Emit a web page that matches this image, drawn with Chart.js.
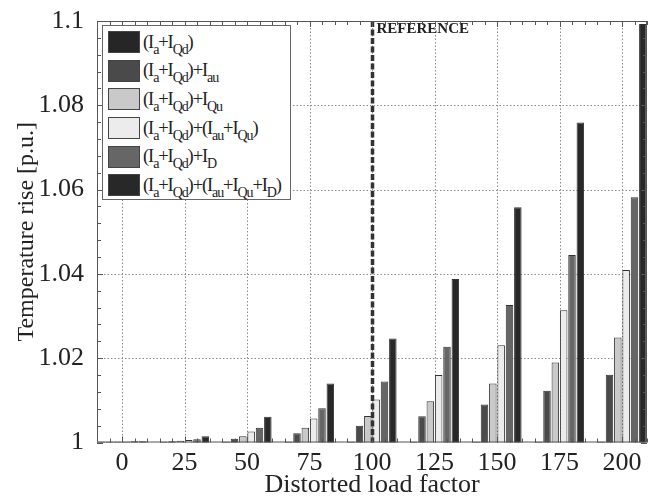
<!DOCTYPE html>
<html>
<head>
<meta charset="utf-8">
<script src="https://cdn.jsdelivr.net/npm/chart.js@4/dist/chart.umd.min.js"></script>
<style>
  body { margin: 0; background: #fff; }
  #wrap { position: relative; width: 656px; height: 499px; }
  #legend {
    position: absolute; left: 102px; top: 25px; width: 182px; height: 171px;
    border: 1px solid #666; background: #fff; padding: 2px 0 0 5px; box-sizing: content-box;
    font-family: "Liberation Serif", serif; font-size: 18.5px; color: #222; white-space: nowrap;
    letter-spacing: -1.1px;
  }
  .row { display: flex; align-items: center; height: 28.6px; }
  .sw { width: 30px; height: 20px; border: 1px solid #444; margin-right: 3px; flex: none; }
  .row sub { font-size: 14px; vertical-align: -6px; line-height: 0; }
</style>
</head>
<body>
<div id="wrap">
  <canvas id="chart" width="656" height="499"></canvas>
  <div id="legend"></div>
</div>
<script>
// distorted load factor (%)
const categories = [0, 25, 50, 75, 100, 125, 150, 175, 200];

// temperature rise [p.u.], one array per current combination
const iaQd       = [1.0002, 1.0002, 1.0002, 1.0002, 1.0002, 1.0002, 1.0002, 1.0002, 1.0002];
const iaQdAu     = [1.0002, 1.0003, 1.0009, 1.0022, 1.0040, 1.0062, 1.0090, 1.0123, 1.0161];
const iaQdQu     = [1.0002, 1.0004, 1.0015, 1.0035, 1.0063, 1.0098, 1.0140, 1.0190, 1.0249];
const iaQdAuQu   = [1.0002, 1.0006, 1.0026, 1.0057, 1.0102, 1.0160, 1.0231, 1.0314, 1.0409];
const iaQdD      = [1.0003, 1.0008, 1.0035, 1.0081, 1.0145, 1.0227, 1.0326, 1.0445, 1.0582];
const iaQdAuQuD  = [1.0003, 1.0015, 1.0061, 1.0140, 1.0247, 1.0388, 1.0558, 1.0759, 1.0993];

const yTicks = [1, 1.02, 1.04, 1.06, 1.08, 1.1];
const referenceLoad = 100;

const seriesLabels = [
  '(I<sub>a</sub>+I<sub>Qd</sub>)',
  '(I<sub>a</sub>+I<sub>Qd</sub>)+I<sub>au</sub>',
  '(I<sub>a</sub>+I<sub>Qd</sub>)+I<sub>Qu</sub>',
  '(I<sub>a</sub>+I<sub>Qd</sub>)+(I<sub>au</sub>+I<sub>Qu</sub>)',
  '(I<sub>a</sub>+I<sub>Qd</sub>)+I<sub>D</sub>',
  '(I<sub>a</sub>+I<sub>Qd</sub>)+(I<sub>au</sub>+I<sub>Qu</sub>+I<sub>D</sub>)'
];
const seriesData = [iaQd, iaQdAu, iaQdQu, iaQdAuQu, iaQdD, iaQdAuQuD];
const seriesColors = ['#262626', '#4a4a4a', '#c9c9c9', '#ececec', '#666666', '#282828'];

const FONT = '"Liberation Serif", serif';

// dotted grid, frame, inward ticks and the reference line
const decorations = {
  id: 'decorations',
  beforeDatasetsDraw(chart) {
    const ctx = chart.ctx;
    const a = chart.chartArea;
    const x = chart.scales.x, y = chart.scales.y;
    ctx.save();
    ctx.beginPath();
    ctx.rect(a.left, a.top, a.right - a.left, a.bottom - a.top);
    ctx.clip();
    ctx.strokeStyle = '#8a8a8a';
    ctx.lineWidth = 1;
    ctx.setLineDash([1.5, 2]);
    ctx.beginPath();
    x.ticks.forEach(t => {
      const px = Math.round(x.getPixelForValue(t.value)) + 0.5;
      ctx.moveTo(px, a.top); ctx.lineTo(px, a.bottom);
    });
    y.ticks.forEach(t => {
      const py = Math.round(y.getPixelForValue(t.value)) + 0.5;
      ctx.moveTo(a.left, py); ctx.lineTo(a.right, py);
    });
    ctx.stroke();
    ctx.restore();
  },
  afterDatasetsDraw(chart) {
    const ctx = chart.ctx;
    const a = chart.chartArea;
    const x = chart.scales.x, y = chart.scales.y;
    ctx.save();

    // reference line
    const rx = Math.round(x.getPixelForValue(referenceLoad)) + 0.5;
    ctx.strokeStyle = '#333';
    ctx.lineWidth = 3.5;
    ctx.setLineDash([6, 2.5]);
    ctx.beginPath();
    ctx.moveTo(rx, a.top);
    ctx.lineTo(rx, a.bottom);
    ctx.stroke();
    ctx.setLineDash([]);
    ctx.fillStyle = '#222';
    ctx.font = 'bold 15px ' + FONT;
    ctx.textBaseline = 'alphabetic';
    ctx.fillText('REFERENCE', rx + 4, a.top + 12);

    // frame
    ctx.strokeStyle = '#555';
    ctx.lineWidth = 1;
    ctx.strokeRect(a.left + 0.5, a.top + 0.5, a.right - a.left - 1, a.bottom - a.top - 1);

    // ticks pointing inward
    ctx.beginPath();
    for (let v = -10; v <= 210; v += 5) {
      const px = Math.round(x.getPixelForValue(v)) + 0.5;
      const len = categories.includes(v) ? 6 : 4;
      ctx.moveTo(px, a.bottom); ctx.lineTo(px, a.bottom - len);
      ctx.moveTo(px, a.top); ctx.lineTo(px, a.top + len);
    }
    for (let i = 0; i <= 25; i++) {
      const v = 1 + i * 0.004;
      const py = Math.round(y.getPixelForValue(v)) + 0.5;
      const len = i % 5 === 0 ? 6 : 4;
      ctx.moveTo(a.left, py); ctx.lineTo(a.left + len, py);
      ctx.moveTo(a.right, py); ctx.lineTo(a.right - len, py);
    }
    ctx.stroke();
    ctx.restore();
  }
};

const datasets = seriesData.map((vals, i) => ({
  label: seriesLabels[i],
  data: categories.map((c, j) => ({ x: c, y: vals[j] })),
  backgroundColor: seriesColors[i],
  borderColor: '#333',
  borderWidth: 1,
  borderSkipped: 'bottom',
  categoryPercentage: 0.8,
  barPercentage: 0.9
}));

new Chart(document.getElementById('chart'), {
  type: 'bar',
  data: { datasets: datasets },
  plugins: [decorations],
  options: {
    responsive: false,
    animation: false,
    layout: { padding: { top: 21, right: 9, left: 0, bottom: 0 } },
    plugins: { legend: { display: false }, tooltip: { enabled: false } },
    scales: {
      x: {
        type: 'linear',
        offset: false,
        min: -10,
        max: 210,
        afterBuildTicks(scale) { scale.ticks = categories.map(v => ({ value: v })); },
        afterFit(scale) { scale.height = 56.5; },
        grid: { display: false },
        border: { display: false },
        ticks: { color: '#222', font: { family: FONT, size: 26 }, padding: -3, maxRotation: 0, autoSkip: false },
        title: { display: true, text: 'Distorted load factor', color: '#222', font: { family: FONT, size: 26 }, padding: { top: 0, bottom: -2 } }
      },
      y: {
        min: 1,
        max: 1.1,
        afterBuildTicks(scale) { scale.ticks = yTicks.map(v => ({ value: v })); },
        afterFit(scale) { scale.width = 97; },
        grid: { display: false },
        border: { display: false },
        ticks: {
          color: '#222', font: { family: FONT, size: 26 }, padding: 5,
          callback: v => String(Number(v.toFixed(2)))
        },
        title: { display: true, text: 'Temperature rise [p.u.]', color: '#222', font: { family: FONT, size: 24 }, padding: { top: 12, bottom: 0 } }
      }
    }
  }
});

// HTML legend so the subscripts stay real text
const legend = document.getElementById('legend');
seriesLabels.forEach((lab, i) => {
  const row = document.createElement('div');
  row.className = 'row';
  row.innerHTML = '<span class="sw" style="background:' + seriesColors[i] + '"></span><span>' + lab + '</span>';
  legend.appendChild(row);
});
</script>
</body>
</html>
